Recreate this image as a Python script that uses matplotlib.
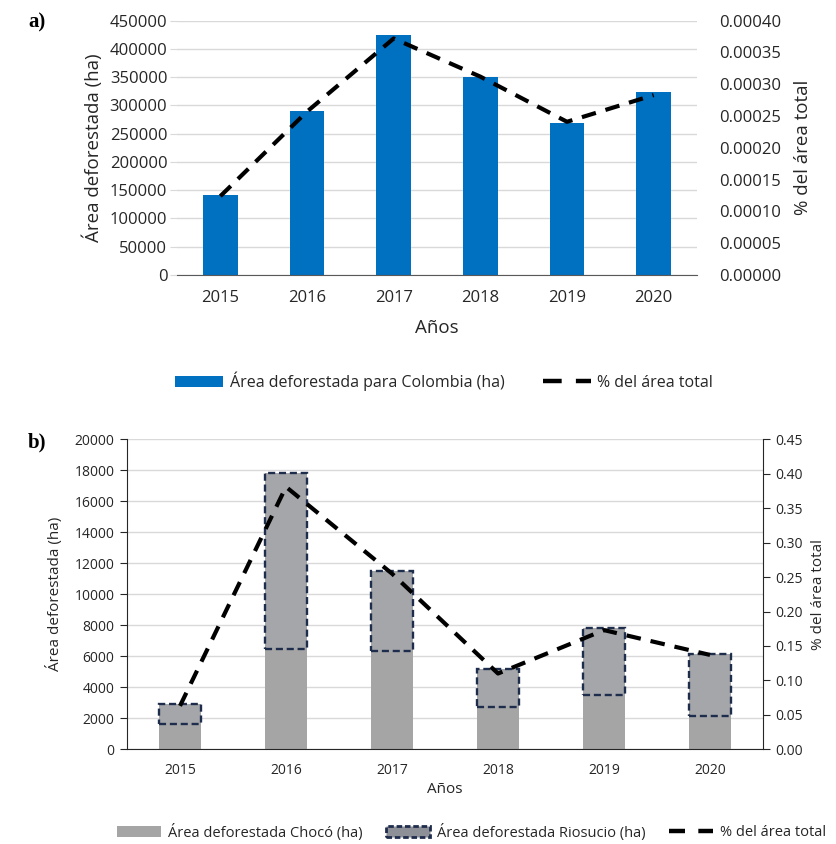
import matplotlib.pyplot as plt
from matplotlib.patches import Patch
from matplotlib.lines import Line2D
import numpy as np

years = ['2015', '2016', '2017', '2018', '2019', '2020']

# panel a: Colombia
col_area = [141600, 290700, 424700, 351000, 268400, 323800]
col_pct = [0.000124, 0.000257, 0.000372, 0.000312, 0.000241, 0.000283]

# panel b: Chocó (total) and Riosucio (part of it)
choco_area = [2950, 17850, 11500, 5160, 7850, 6130]
riosucio_area = [1340, 11380, 5180, 2450, 4370, 3960]
choco_pct = [0.063, 0.381, 0.255, 0.110, 0.173, 0.137]

W, H = 837, 844
fig = plt.figure(figsize=(W / 100, H / 100), dpi=100)
plt.rcParams['font.family'] = ['Open Sans', 'DejaVu Sans']

grid_c = '#d9d9d9'
txt_c = '#262626'
x = np.arange(len(years))


def ax_rect(l, t, r, b):
    return [l / W, 1 - b / H, (r - l) / W, (b - t) / H]


# ---------- a) ----------
ax = fig.add_axes(ax_rect(177, 20.7, 697, 275))
ax.bar(x, col_area, width=0.40, color='#0070c0', zorder=2)
ax.set_xlim(-0.5, 5.5)
ax.set_ylim(0, 450000)
ax.set_yticks(np.arange(0, 450001, 50000))
ax.yaxis.grid(True, color=grid_c, lw=1, zorder=0)
ax.set_axisbelow(True)
for s in ['top', 'right', 'left']:
    ax.spines[s].set_visible(False)
ax.spines['bottom'].set_color('#595959')
ax.set_xticks(x)
ax.set_xticklabels(years)
ax.tick_params(axis='x', length=0, pad=11, labelsize=12, colors=txt_c)
ax.tick_params(axis='y', length=5, color=grid_c, pad=2, labelsize=12, colors=txt_c)
ax.set_xlabel('Años', fontsize=13.5, labelpad=9, color=txt_c)
ax.set_ylabel('Área deforestada (ha)', fontsize=13.5, labelpad=5, color=txt_c)

ax2 = ax.twinx()
ax2.plot(x, col_pct, color='black', lw=3, dashes=(3.5, 2.4), zorder=3)
ax2.set_ylim(0, 0.0004)
ax2.set_yticks(np.arange(0, 0.00041, 0.00005))
ax2.set_yticklabels(['%.5f' % v for v in np.arange(0, 0.00041, 0.00005)])
for s in ax2.spines.values():
    s.set_visible(False)
ax2.tick_params(axis='y', length=0, pad=16, labelsize=12, colors=txt_c)
ax2.set_ylabel('% del área total', fontsize=13.5, labelpad=9, color=txt_c)

fig.legend(handles=[Patch(facecolor='#0070c0', label='Área deforestada para Colombia (ha)'),
                    Line2D([], [], color='black', lw=3.2, dashes=(4.2, 3.2), label='% del área total')],
           loc='center', bbox_to_anchor=(444 / W, 1 - 381 / H), ncol=2, frameon=False,
           prop={'size': 11.5}, handlelength=3.0, columnspacing=2.4,
           handletextpad=0.4, labelcolor=txt_c)

fig.text(28 / W, 1 - 22 / H, 'a)', fontsize=15, fontweight='bold',
         family='Liberation Serif', va='center', ha='left')

# ---------- b) ----------
bx = fig.add_axes(ax_rect(127, 439.3, 763, 749.3))
bx.bar(x, choco_area, width=0.40, color='#a5a5a5', zorder=2)
bottoms = [c - r for c, r in zip(choco_area, riosucio_area)]
bx.bar(x, riosucio_area, bottom=bottoms, width=0.40, facecolor='#a5a6a9',
       edgecolor='#1f2d4d', lw=1.7, linestyle=(0, (3, 1.6)), zorder=3)
bx.set_xlim(-0.5, 5.5)
bx.set_ylim(0, 20000)
bx.set_yticks(np.arange(0, 20001, 2000))
bx.yaxis.grid(True, color=grid_c, lw=1, zorder=0)
bx.set_axisbelow(True)
bx.spines['top'].set_visible(False)
bx.spines['right'].set_visible(False)
bx.spines['left'].set_color(txt_c)
bx.spines['bottom'].set_color(txt_c)
bx.set_xticks(x)
bx.set_xticklabels(years)
bx.tick_params(axis='x', length=0, pad=10, labelsize=10, colors=txt_c)
bx.tick_params(axis='y', length=5, direction='out', pad=4, labelsize=10, colors=txt_c)
bx.set_xlabel('Años', fontsize=11, labelpad=3, color=txt_c)
bx.set_ylabel('Área deforestada (ha)', fontsize=11, labelpad=8, color=txt_c)

bx2 = bx.twinx()
bx2.plot(x, choco_pct, color='black', lw=3, dashes=(3.5, 2.4), zorder=4)
bx2.set_ylim(0, 0.45)
bx2.set_yticks(np.arange(0, 0.451, 0.05))
bx2.set_yticklabels(['%.2f' % v for v in np.arange(0, 0.451, 0.05)])
bx2.spines['top'].set_visible(False)
bx2.spines['left'].set_visible(False)
bx2.spines['bottom'].set_visible(False)
bx2.spines['right'].set_color(txt_c)
bx2.tick_params(axis='y', length=5, pad=4, labelsize=10, colors=txt_c)
bx2.set_ylabel('% del área total', fontsize=11, labelpad=6, color=txt_c)

fig.legend(handles=[Patch(facecolor='#a5a5a5', label='Área deforestada Chocó (ha)'),
                    Patch(facecolor='#8e9098', edgecolor='#1f2d4d', lw=2,
                          linestyle=(0, (2, 1)), label='Área deforestada Riosucio (ha)'),
                    Line2D([], [], color='black', lw=3.2, dashes=(3.6, 3.0), label='% del área total')],
           loc='center', bbox_to_anchor=(472 / W, 1 - 832 / H), ncol=3, frameon=False,
           prop={'size': 10.5}, handlelength=3.0, columnspacing=1.6,
           handletextpad=0.5, labelcolor=txt_c)

fig.text(28 / W, 1 - 442 / H, 'b)', fontsize=15, fontweight='bold',
         family='Liberation Serif', va='center', ha='left')

fig.savefig('out.png', dpi=100)
